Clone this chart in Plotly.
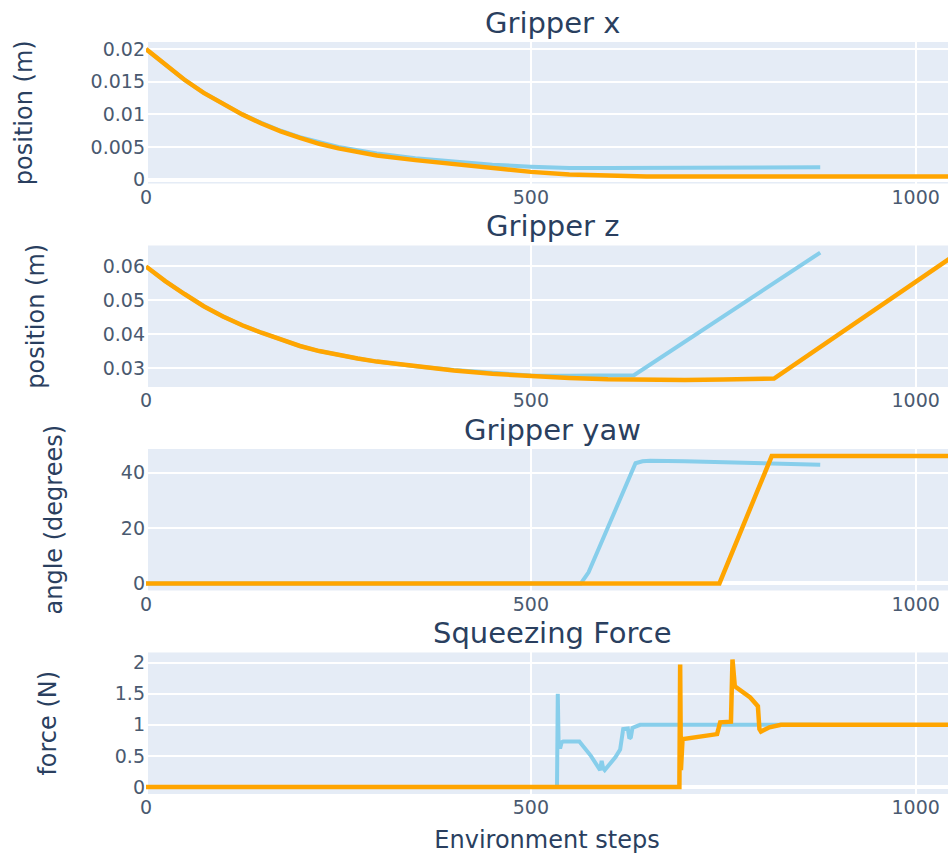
import plotly.graph_objects as go
from plotly.subplots import make_subplots

# ---- panel titles and axis labels ----
panel_titles = ["Gripper x", "Gripper z", "Gripper yaw", "Squeezing Force"]
y_titles = ["position (m)", "position (m)", "angle (degrees)", "force (N)"]
x_title = "Environment steps"

# ---- Gripper x (m) ----
gx_steps_1 = [0, 25, 50, 75, 100, 125, 150, 175, 200, 225, 250, 275, 300, 350,
              400, 450, 500, 550, 600, 650, 700, 750, 800, 850, 876]
gx_vals_1 = [0.0200, 0.0176, 0.0153, 0.0133, 0.0116, 0.0100, 0.0087, 0.0075,
             0.0065, 0.0057, 0.0050, 0.0045, 0.0040, 0.0033, 0.0028, 0.0023,
             0.0020, 0.0018, 0.0018, 0.0018, 0.0018, 0.0018, 0.0018, 0.0019, 0.0019]
gx_steps_2 = [0, 25, 50, 75, 100, 125, 150, 175, 200, 225, 250, 275, 300, 350,
              400, 450, 500, 550, 600, 650, 700, 800, 900, 1000, 1050]
gx_vals_2 = [0.0200, 0.0176, 0.0153, 0.0133, 0.0116, 0.0100, 0.0086, 0.0074,
             0.0064, 0.0055, 0.0048, 0.0042, 0.0037, 0.0030, 0.0024, 0.0018,
             0.0012, 0.0008, 0.0006, 0.0005, 0.0005, 0.0005, 0.0005, 0.0005, 0.0005]

# ---- Gripper z (m) ----
gz_steps_1 = [0, 25, 50, 75, 100, 125, 150, 175, 200, 225, 250, 275, 300, 350,
              400, 450, 500, 550, 600, 634, 876]
gz_vals_1 = [0.0600, 0.0557, 0.0519, 0.0483, 0.0453, 0.0427, 0.0405, 0.0384,
             0.0366, 0.0351, 0.0339, 0.0329, 0.0320, 0.0306, 0.0295, 0.0286,
             0.0279, 0.0278, 0.0278, 0.0280, 0.0641]
gz_steps_2 = [0, 25, 50, 75, 100, 125, 150, 175, 200, 225, 250, 275, 300, 350,
              400, 450, 500, 550, 600, 650, 700, 750, 816, 1050]
gz_vals_2 = [0.0600, 0.0557, 0.0519, 0.0483, 0.0453, 0.0427, 0.0405, 0.0384,
             0.0366, 0.0351, 0.0339, 0.0329, 0.0320, 0.0306, 0.0294, 0.0284,
             0.0277, 0.0272, 0.0268, 0.0266, 0.0266, 0.0267, 0.0270, 0.0632]

# ---- Gripper yaw (degrees) ----
yaw_steps_1 = [0, 565, 575, 636, 645, 655, 700, 750, 800, 876]
yaw_vals_1 = [0, 0, 4.0, 43.4, 44.1, 44.3, 44.1, 43.8, 43.5, 42.9]
yaw_steps_2 = [0, 745, 813, 1050]
yaw_vals_2 = [0, 0, 46.0, 46.0]

# ---- Squeezing force (N) ----
f_steps_1 = [0, 534, 535, 536, 538, 540, 542, 563, 578, 590, 592, 594, 596,
             600, 610, 616, 620, 626, 628, 630, 632, 636, 642, 876]
f_vals_1 = [0, 0, 1.50, 0.75, 0.62, 0.72, 0.73, 0.73, 0.50, 0.27, 0.42, 0.30,
            0.27, 0.33, 0.48, 0.60, 0.93, 0.94, 0.78, 0.80, 0.95, 0.97, 1.0, 1.0]
f_steps_2 = [0, 693, 694, 695, 697, 698, 742, 746, 760, 762, 765, 785, 795,
             797, 799, 810, 825, 1050]
f_vals_2 = [0, 0, 1.97, 0.27, 0.75, 0.77, 0.85, 1.04, 1.05, 2.05, 1.62, 1.44,
            1.30, 0.93, 0.89, 0.96, 1.0, 1.0]

y_dticks = [0.005, 0.01, 20, 0.5]

BLUE = "#87CEEB"
ORANGE = "#FFA500"
FONT = "DejaVu Sans"

panels = [
    (gx_steps_1, gx_vals_1, gx_steps_2, gx_vals_2),
    (gz_steps_1, gz_vals_1, gz_steps_2, gz_vals_2),
    (yaw_steps_1, yaw_vals_1, yaw_steps_2, yaw_vals_2),
    (f_steps_1, f_vals_1, f_steps_2, f_vals_2),
]

fig = make_subplots(rows=4, cols=1, vertical_spacing=0.0824,
                    subplot_titles=panel_titles)

for i, (s1, v1, s2, v2) in enumerate(panels, start=1):
    fig.add_trace(go.Scatter(x=s1, y=v1, mode="lines",
                             line=dict(color=BLUE, width=4)), row=i, col=1)
    fig.add_trace(go.Scatter(x=s2, y=v2, mode="lines",
                             line=dict(color=ORANGE, width=4.5)), row=i, col=1)
    fig.update_yaxes(title=dict(text=y_titles[i - 1], font=dict(size=24),
                                standoff=51),
                     dtick=y_dticks[i - 1],
                     tickfont=dict(size=19, color="#4a5a70"),
                     gridwidth=1.8, zerolinewidth=3.5, row=i, col=1)
    fig.update_xaxes(range=[0, 1042], dtick=500,
                     tickfont=dict(size=19, color="#4a5a70"),
                     gridwidth=1.8, zerolinewidth=3.5, row=i, col=1)

fig.update_xaxes(title=dict(text=x_title, font=dict(size=24)), row=4, col=1)

for ann in fig.layout.annotations:
    ann.font = dict(size=29, family=FONT, color="#2a3f5f")
    ann.xshift = 5

fig.update_layout(
    template="plotly",
    width=948,
    height=854,
    margin=dict(l=146, r=0, t=42, b=60),
    showlegend=False,
    font=dict(family=FONT),
)

fig.write_html("out.html")
